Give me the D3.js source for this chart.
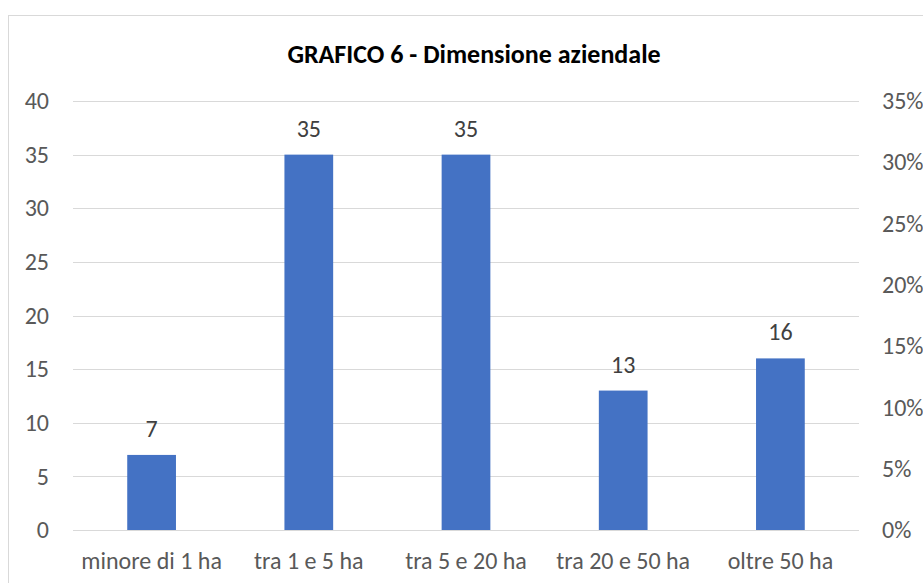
<!DOCTYPE html>
<html>
<head>
<meta charset="utf-8">
<script src="https://cdn.jsdelivr.net/npm/d3@7"></script>
<style>
  body { margin: 0; background: #fff; }
  text { font-family: Carlito, "Open Sans", sans-serif; }
</style>
</head>
<body>
<svg id="chart"></svg>
<script>
// dati del grafico
var categories = ['minore di 1 ha', 'tra 1 e 5 ha', 'tra 5 e 20 ha', 'tra 20 e 50 ha', 'oltre 50 ha'];
var values = [7, 35, 35, 13, 16];
var leftTicks = [0, 5, 10, 15, 20, 25, 30, 35, 40];
var rightTicks = [0, 0.05, 0.10, 0.15, 0.20, 0.25, 0.30, 0.35];
var title = 'GRAFICO 6 - Dimensione aziendale';

var W = 923, H = 583;
var FONT = 'Carlito, "Open Sans", sans-serif';
var svg = d3.select('#chart')
    .attr('width', W)
    .attr('height', H);

// bordo del grafico (esce dalla finestra a destra e in basso)
svg.append('rect')
    .attr('x', 8.5).attr('y', 15.5)
    .attr('width', 1000).attr('height', 1000)
    .attr('fill', '#fff')
    .attr('stroke', '#d9d9d9');

var x = d3.scaleBand()
    .domain(categories)
    .range([73, 859])
    .paddingInner(0.69)
    .paddingOuter(0.345);

var y = d3.scaleLinear().domain([0, 40]).range([530, 101]);
var y2 = d3.scaleLinear().domain([0, 0.35]).range([530, 101]);

// griglia
svg.append('g')
    .selectAll('line')
    .data(leftTicks)
    .enter()
    .append('line')
    .attr('x1', 73).attr('x2', 859)
    .attr('y1', function (d) { return Math.round(y(d)) + 0.5; })
    .attr('y2', function (d) { return Math.round(y(d)) + 0.5; })
    .attr('stroke', '#d9d9d9')
    .attr('stroke-width', 1);

// asse sinistro
var axL = svg.append('g')
    .attr('transform', 'translate(49,0)')
    .call(d3.axisLeft(y).tickValues(leftTicks).tickSize(0).tickPadding(0));
axL.select('.domain').remove();
axL.selectAll('text')
    .style('font-family', FONT)
    .style('font-size', '24px')
    .attr('fill', '#595959');

// asse destro
var axR = svg.append('g')
    .attr('transform', 'translate(882,0)')
    .call(d3.axisRight(y2).tickValues(rightTicks).tickFormat(d3.format('.0%')).tickSize(0).tickPadding(0));
axR.select('.domain').remove();
axR.selectAll('text')
    .style('font-family', FONT)
    .style('font-size', '24px')
    .attr('fill', '#595959');

// asse categorie
var axB = svg.append('g')
    .attr('transform', 'translate(0,530)')
    .call(d3.axisBottom(x).tickSize(0).tickPadding(0));
axB.select('.domain').remove();
axB.selectAll('text')
    .attr('dy', null)
    .attr('y', 39)
    .style('font-family', FONT)
    .style('font-size', '24px')
    .attr('fill', '#595959');

// barre
svg.selectAll('rect.bar')
    .data(values)
    .enter()
    .append('rect')
    .attr('class', 'bar')
    .attr('x', function (d, i) { return x(categories[i]); })
    .attr('y', function (d) { return y(d); })
    .attr('width', x.bandwidth())
    .attr('height', function (d) { return y(0) - y(d); })
    .attr('fill', '#4472c4');

// etichette dati
svg.selectAll('text.lbl')
    .data(values)
    .enter()
    .append('text')
    .attr('class', 'lbl')
    .attr('x', function (d, i) { return x(categories[i]) + x.bandwidth() / 2; })
    .attr('y', function (d) { return y(d) - 18; })
    .attr('text-anchor', 'middle')
    .style('font-size', '24px')
    .attr('fill', '#404040')
    .text(function (d) { return d; });

// titolo
svg.append('text')
    .attr('x', 474)
    .attr('y', 63)
    .attr('text-anchor', 'middle')
    .style('font-size', '26px')
    .style('font-weight', 'bold')
    .attr('fill', '#000')
    .text(title);
</script>
</body>
</html>
